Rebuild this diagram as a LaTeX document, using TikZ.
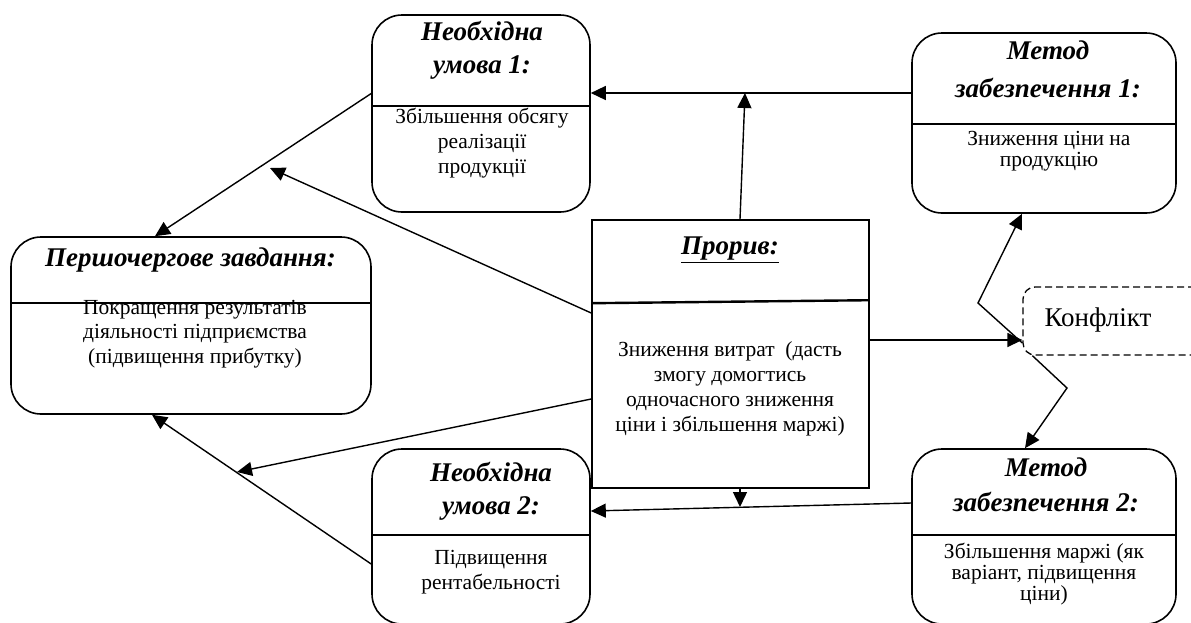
\documentclass[tikz,border=0pt]{standalone}
\usepackage{fontspec}
\setmainfont{Liberation Serif}
\usetikzlibrary{arrows.meta}

\begin{document}
\begin{tikzpicture}[x=1pt, y=-1pt,
    rbox/.style={draw, line width=1.6pt, rounded corners=30pt, inner sep=0pt},
    sbox/.style={draw, line width=1.6pt, inner sep=0pt},
    sep/.style={line width=2.4pt},
    ttl/.style={font=\fontsize{27}{33}\selectfont\bfseries\itshape, align=center, inner sep=0pt},
    txt/.style={font=\fontsize{21.5}{25}\selectfont, align=center, inner sep=0pt},
    arr/.style={line width=1.4pt, -{Triangle[length=15pt, width=14pt]}}]
    \clip (0,0) rectangle (1191,622);

    % boxes
    \node[rbox, minimum width=218pt, minimum height=197pt] (nu1) at (481,113.5) {};
    \node[rbox, minimum width=264pt, minimum height=180pt] (mz1) at (1044,123) {};
    \node[rbox, minimum width=360pt, minimum height=177pt] (pz) at (191,325.5) {};
    \node[sbox, minimum width=277pt, minimum height=268pt] (pro) at (730.5,354) {};
    \node[rbox, minimum width=218pt, minimum height=175pt] (nu2) at (481,536.5) {};
    \node[rbox, minimum width=264pt, minimum height=175pt] (mz2) at (1044,536.5) {};
    \node[draw, dash pattern=on 7pt off 4pt, line width=1.3pt, rounded corners=12pt,
          minimum width=217pt, minimum height=68pt] (konf) at (1131.5,321) {};

    % dividers
    \draw[sep] ([yshift=-92pt]nu1.north west) -- ([yshift=-92pt]nu1.north east);
    \draw[sep] ([yshift=-92pt]mz1.north west) -- ([yshift=-92pt]mz1.north east);
    \draw[sep] ([yshift=-67pt]pz.north west) -- ([yshift=-67pt]pz.north east);
    \draw[sep] ([yshift=-84pt]pro.north west) -- ([yshift=-81pt]pro.north east);
    \draw[sep] ([yshift=-87pt]nu2.north west) -- ([yshift=-87pt]nu2.north east);
    \draw[sep] ([yshift=-87pt]mz2.north west) -- ([yshift=-87pt]mz2.north east);

    % titles and texts
    \node[ttl] (nu1t) at (482,50) {Необхідна\\умова 1:};
    \node[txt] (nu1b) at (482,143) {Збільшення обсягу\\реалізації\\продукції};
    \node[ttl, font=\fontsize{27}{38}\selectfont\bfseries\itshape] (mz1t) at (1048,69) {Метод\\забезпечення 1:};
    \node[txt, font=\fontsize{21.5}{21}\selectfont] (mz1b) at (1049,151) {Зниження ціни на\\продукцію};
    \node[ttl] (pzt) at (190.5,260) {Першочергове завдання:};
    \node[txt, font=\fontsize{21.5}{24.5}\selectfont] (pzb) at (195,334) {Покращення результатів\\діяльності підприємства\\(підвищення прибутку)};
    \node[ttl] (prot) at (730,250) {\underline{Прорив:}};
    \node[txt] (prob) at (730,389) {Зниження витрат\ \ (дасть\\змогу домогтись\\одночасного зниження\\ціни і збільшення маржі)};
    \node[ttl] (nu2t) at (491,491.5) {Необхідна\\умова 2:};
    \node[txt] (nu2b) at (491,572.5) {Підвищення\\рентабельності};
    \node[ttl, font=\fontsize{27}{35}\selectfont\bfseries\itshape] (mz2t) at (1046,484.5) {Метод\\забезпечення 2:};
    \node[txt, font=\fontsize{21.5}{21}\selectfont] (mz2b) at (1044,574) {Збільшення маржі (як\\варіант, підвищення\\ціни)};
    \node[txt, font=\fontsize{27}{30}\selectfont] (konft) at (1098,320) {Конфлікт};

    % connectors
    \coordinate (j1) at (745,93);
    \coordinate (j2) at (740,507);
    \coordinate (f1) at (270,168);
    \coordinate (f2) at (237,472);
    \coordinate (kv1) at (978,303);
    \coordinate (kv2) at (1067,388);
    \coordinate (kin) at ([yshift=14pt]pro.east);
    \draw[arr] ([yshift=30pt]mz1.west) -- (nu1.east |- j1);
    \draw[arr] ([xshift=9.5pt]pro.north) -- (j1);
    \draw[arr] ([yshift=20pt]nu1.west) -- ([xshift=-36pt]pz.north);
    \draw[arr] ([yshift=41pt]pro.west) -- (f1);
    \draw[arr] ([yshift=-45pt]pro.west) -- (f2);
    \draw[arr] ([yshift=-27.5pt]nu2.west) -- ([xshift=-39pt]pz.south);
    \draw[arr] ([yshift=33.5pt]mz2.west) -- ([yshift=25.5pt]nu2.east);
    \draw[arr] ([xshift=9.5pt]pro.south) -- (j2);
    \draw[arr] (kin) -- (kin -| konf.west);
    \draw[arr] ([yshift=-22pt]konf.west) -- (kv1) -- ([xshift=-22pt]mz1.south);
    \draw[arr] ([xshift=10pt]konf.south west) -- (kv2) -- ([xshift=-19pt]mz2.north);
\end{tikzpicture}
\end{document}
